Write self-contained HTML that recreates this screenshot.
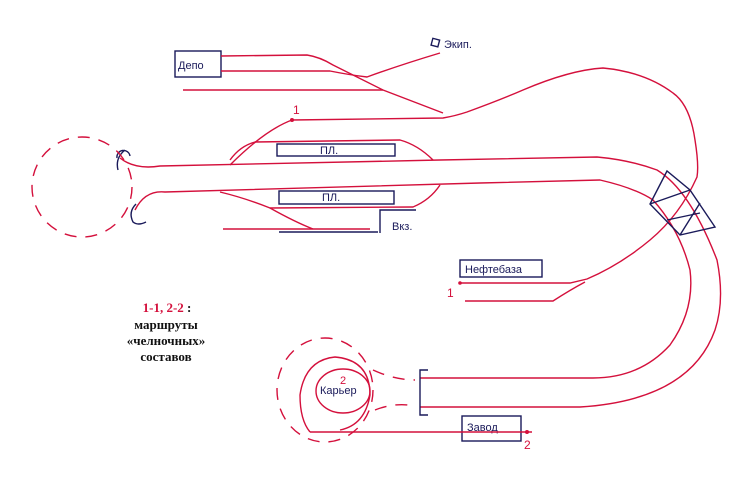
<!DOCTYPE html>
<html><head><meta charset="utf-8"><style>
html,body{margin:0;padding:0;background:#fff;}
svg{display:block;}
.r{fill:none;stroke:#d4103c;stroke-width:1.4;}
.b{fill:none;stroke:#1a1a5a;stroke-width:1.4;}
.d{fill:none;stroke:#d4103c;stroke-width:1.4;stroke-dasharray:12 9;}
.t{font-family:"Liberation Sans",sans-serif;font-size:11px;fill:#1a1a5a;}
.s{font-family:"Liberation Serif",serif;font-weight:bold;font-size:13px;text-anchor:middle;}
</style></head><body>
<svg width="744" height="496" viewBox="0 0 744 496" xmlns="http://www.w3.org/2000/svg">
<!-- Depo -->
<rect x="175" y="51" width="46" height="26" class="b"/>
<text x="178" y="69" class="t">Депо</text>
<path class="r" d="M221 56 L307 55 Q320 57 333 65 L383 90 L443 113"/>
<path class="r" d="M221 71 L330 71 Q350 75 367 77 Q400 65 440 53"/>
<rect x="432" y="39" width="7" height="7" class="b" transform="rotate(15 435 42)"/>
<text x="444" y="48" class="t">Экип.</text>
<path class="r" d="M183 90 L383 90"/>
<!-- route 1 loop -->
<path class="r" d="M292 120 L443 118 Q455 116 467 112 Q500 100 523 90 Q570 70 603 68 Q645 72 673 93 Q690 105 695 140 Q699 165 697 177 Q680 215 650 240 Q620 265 587 279 L570 283 L460 283"/>
<circle cx="292" cy="120" r="2" fill="#d4103c"/>
<text x="293" y="114" font-family="Liberation Sans" font-size="12" fill="#d4103c">1</text>
<path class="r" d="M292 120 Q265 130 230 165"/>
<!-- Нефтебаза -->
<rect x="460" y="260" width="82" height="17" class="b"/>
<text x="465" y="273" class="t">Нефтебаза</text>
<path class="r" d="M465 301 L553 301 Q570 290 585 282"/>
<circle cx="460" cy="283" r="1.8" fill="#d4103c"/>
<text x="447" y="297" font-family="Liberation Sans" font-size="12" fill="#d4103c">1</text>
<!-- main tracks -->
<path class="r" d="M120 158 Q135 170 160 166 L440 160 L597 157 Q630 160 657 170 Q690 190 717 260 Q725 300 715 330 Q690 400 580 407 L420 407"/>
<path class="r" d="M135 210 Q145 190 165 192 L480 183 L600 180 Q635 188 653 200 Q680 230 690 270 Q695 310 670 345 Q640 378 593 378 L420 378"/>
<path class="b" d="M125 150 Q115 158 118 170 M117 158 A6 6 0 0 1 130 156" />
<path class="b" d="M136 204 Q128 212 133 222 Q138 226 146 222"/>
<!-- platforms -->
<rect x="277" y="144" width="118" height="12" class="b"/>
<text x="320" y="154" class="t" font-size="9">ПЛ.</text>
<path class="r" d="M230 160 Q240 146 255 142 L400 140 Q418 145 433 160"/>
<rect x="279" y="191" width="115" height="13" class="b"/>
<text x="322" y="201" class="t" font-size="9">ПЛ.</text>
<path class="r" d="M220 192 Q245 198 270 208 L413 207 Q430 200 440 185"/>
<path class="r" d="M270 208 Q295 222 313 229"/>
<path class="r" d="M223 229 L370 229"/>
<path class="b" d="M279 232 L378 232 M380 233 L380 210 L416 210"/>
<text x="392" y="230" class="t">Вкз.</text>
<!-- big dashed loop -->
<circle cx="82" cy="187" r="50" class="d"/>
<!-- switch -->
<path class="b" d="M667 171 L650 204 L680 235 L715 227 L690 190 Z M650 204 L690 190 M667 220 L700 213 M680 235 L700 203"/>
<!-- Карьер -->
<ellipse cx="325" cy="390" rx="48" ry="52" class="d"/>
<path class="d" d="M373 370 Q395 380 415 380 M375 410 Q395 402 415 406"/>
<path class="r" d="M310 432 Q300 420 300 395 Q305 360 335 357 Q370 360 370 395 Q365 425 340 430"/>
<ellipse cx="343" cy="391" rx="27" ry="22" class="r"/>
<text x="320" y="394" class="t">Карьер</text>
<text x="340" y="384" font-family="Liberation Sans" font-size="11" fill="#d4103c">2</text>
<path class="b" d="M428 370 L420 370 L420 415 L428 415"/>
<!-- Завод -->
<rect x="462" y="416" width="59" height="25" class="b"/>
<text x="467" y="431" class="t">Завод</text>
<path class="r" d="M310 432 Q330 432 355 432 L532 432"/>
<circle cx="527" cy="432" r="2" fill="#d4103c"/>
<text x="524" y="449" font-family="Liberation Sans" font-size="12" fill="#d4103c">2</text>
<!-- legend -->
<text x="167" y="312" class="s"><tspan fill="#d4103c">1-1, 2-2</tspan><tspan fill="#111"> :</tspan></text>
<text x="166" y="329" class="s" fill="#111">маршруты</text>
<text x="166" y="345" class="s" fill="#111">«челночных»</text>
<text x="166" y="361" class="s" fill="#111">составов</text>
</svg>
</body></html>
